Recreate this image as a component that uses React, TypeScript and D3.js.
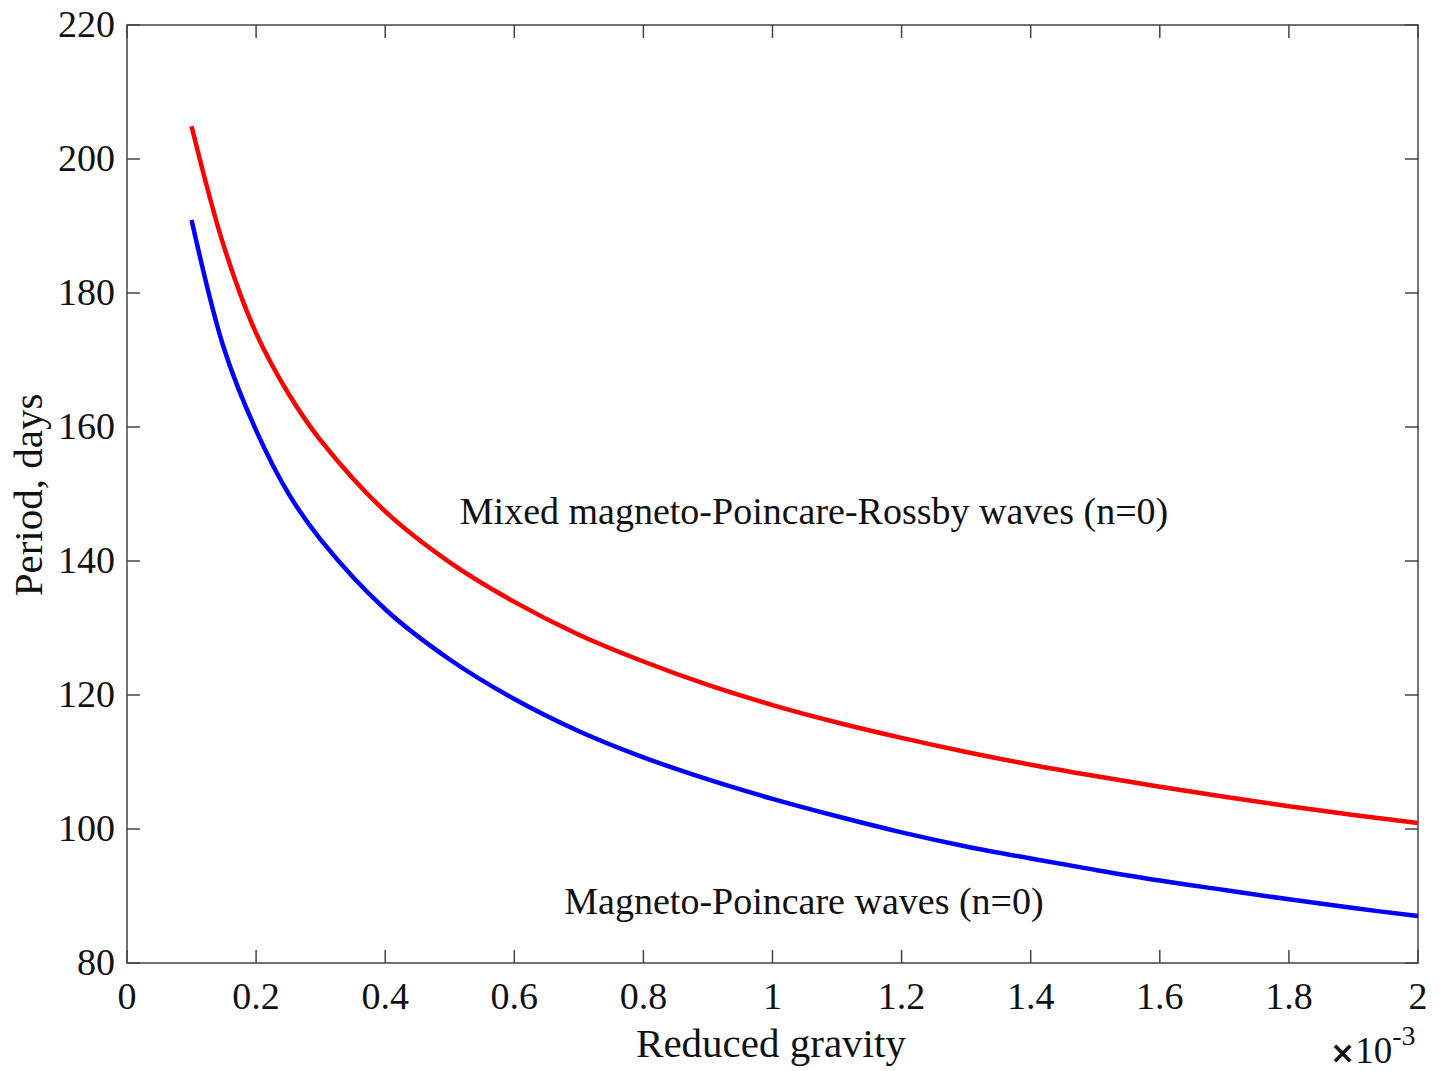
import React from "react";
import * as d3 from "d3";

const gravity = [0.1, 0.15, 0.2, 0.25, 0.3, 0.4, 0.5, 0.6, 0.7, 0.8, 0.9, 1.0, 1.1, 1.2, 1.3, 1.4, 1.5, 1.6, 1.7, 1.8, 1.9, 2.0];
const mixedPeriod = [204.9, 187.0, 174.0, 165.0, 158.0, 147.4, 139.8, 133.9, 129.0, 125.0, 121.5, 118.5, 115.9, 113.6, 111.5, 109.6, 107.9, 106.3, 104.8, 103.4, 102.1, 100.9];
const poincarePeriod = [190.9, 171.8, 159.5, 150.1, 143.2, 132.8, 125.3, 119.4, 114.6, 110.7, 107.4, 104.5, 101.9, 99.5, 97.4, 95.6, 93.9, 92.3, 90.9, 89.5, 88.2, 87.0];
const xTicks = [0, 0.2, 0.4, 0.6, 0.8, 1, 1.2, 1.4, 1.6, 1.8, 2];
const yTicks = [80, 100, 120, 140, 160, 180, 200, 220];

const W = 1441, H = 1071;
const L = 127, R = 1418, T = 25, B = 963;
const FONT = "'Liberation Serif', 'Times New Roman', serif";
const AX = "#444";

export default function App() {
  const x = d3.scaleLinear().domain([0, 2]).range([L, R]);
  const y = d3.scaleLinear().domain([80, 220]).range([B, T]);
  const line = d3.line<number>().x((_, i) => x(gravity[i])).y((d) => y(d)).curve(d3.curveCatmullRom.alpha(0.5));
  const tl = 13;
  return (
    <svg width={W} height={H} style={{ position: "absolute", left: 0, top: 0 }}>
      <rect x={0} y={0} width={W} height={H} fill="#fff" />
      <rect x={L} y={T} width={R - L} height={B - T} fill="none" stroke={AX} strokeWidth={1.5} />
      {xTicks.map((t) => (
        <g key={"x" + t}>
          <line x1={x(t)} x2={x(t)} y1={B} y2={B - tl} stroke={AX} strokeWidth={1.5} />
          <line x1={x(t)} x2={x(t)} y1={T} y2={T + tl} stroke={AX} strokeWidth={1.5} />
          <text x={x(t)} y={1009} textAnchor="middle" fontFamily={FONT} fontSize={38} fill="#111">{String(t)}</text>
        </g>
      ))}
      {yTicks.map((t) => (
        <g key={"y" + t}>
          <line x1={L} x2={L + tl} y1={y(t)} y2={y(t)} stroke={AX} strokeWidth={1.5} />
          <line x1={R} x2={R - tl} y1={y(t)} y2={y(t)} stroke={AX} strokeWidth={1.5} />
          <text x={115} y={y(t) + 12} textAnchor="end" fontFamily={FONT} fontSize={38} fill="#111">{String(t)}</text>
        </g>
      ))}
      <path d={line(mixedPeriod) || ""} fill="none" stroke="#ff0000" strokeWidth={4.5} />
      <path d={line(poincarePeriod) || ""} fill="none" stroke="#0000ff" strokeWidth={4.5} />
      <text x={814} y={524} textAnchor="middle" fontFamily={FONT} fontSize={38} fill="#111">Mixed magneto-Poincare-Rossby waves (n=0)</text>
      <text x={804} y={914} textAnchor="middle" fontFamily={FONT} fontSize={38} fill="#111">Magneto-Poincare waves (n=0)</text>
      <text x={771} y={1057} textAnchor="middle" fontFamily={FONT} fontSize={41} fill="#111">Reduced gravity</text>
      <text transform={`translate(42,495) rotate(-90)`} textAnchor="middle" fontFamily={FONT} fontSize={41} fill="#111">Period, days</text>
      <text x={1330} y={1063} fontFamily={FONT} fontSize={37} fill="#111">
        <tspan fontWeight="bold" fontFamily="'DejaVu Sans', sans-serif" fontSize={30}>×</tspan>10<tspan dy={-18} fontSize={28}>-3</tspan>
      </text>
    </svg>
  );
}
